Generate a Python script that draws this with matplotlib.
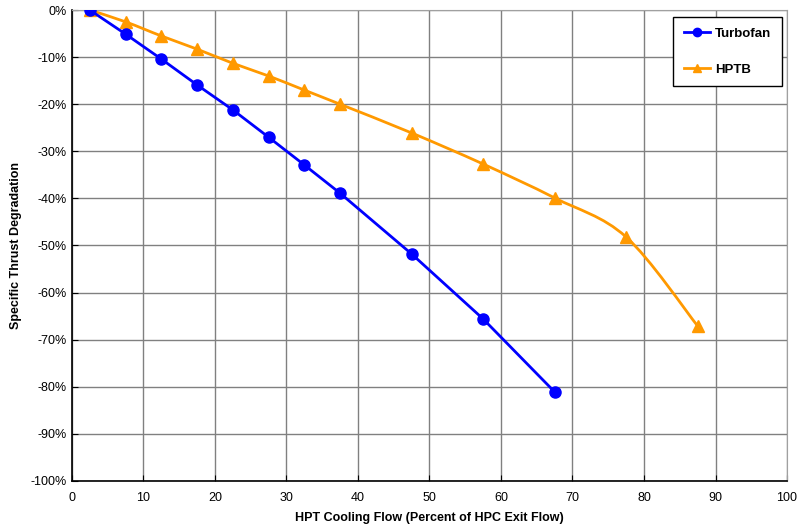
import matplotlib
matplotlib.use("Agg")
import matplotlib.pyplot as plt
from matplotlib.path import Path
import matplotlib.patches as patches
import numpy as np

plt.rcParams['font.family'] = ['Liberation Sans', 'DejaVu Sans']

# data
flow = [2.5, 7.5, 12.5, 17.5, 22.5, 27.5, 32.5, 37.5, 47.5, 57.5, 67.5]
turbofan = [0, -5.1, -10.4, -15.9, -21.2, -27.0, -32.9, -38.9, -51.8, -65.6, -81.1]
flow_hptb = [2.5, 7.5, 12.5, 17.5, 22.5, 27.5, 32.5, 37.5, 47.5, 57.5, 67.5, 77.5, 87.5]
hptb = [0, -2.5, -5.5, -8.3, -11.3, -14.0, -17.0, -20.0, -26.1, -32.7, -39.9, -48.2, -67.1]

blue = '#0000ff'
orange = '#ff9900'


def smooth_path(xs, ys):
    # excel-like smoothed line: cubic bezier through the points
    xs = np.asarray(xs, float)
    ys = np.asarray(ys, float)
    n = len(xs)
    verts = [(xs[0], ys[0])]
    codes = [Path.MOVETO]
    for i in range(n - 1):
        p0 = np.array([xs[max(i - 1, 0)], ys[max(i - 1, 0)]])
        p1 = np.array([xs[i], ys[i]])
        p2 = np.array([xs[i + 1], ys[i + 1]])
        p3 = np.array([xs[min(i + 2, n - 1)], ys[min(i + 2, n - 1)]])
        c1 = p1 + (p2 - p0) / 6.0
        c2 = p2 - (p3 - p1) / 6.0
        verts += [tuple(c1), tuple(c2), tuple(p2)]
        codes += [Path.CURVE4] * 3
    return Path(verts, codes)


fig = plt.figure(figsize=(7.99, 5.29), dpi=100)
ax = fig.add_axes([0.090, 0.091, 0.895, 0.890])

ax.plot(flow, turbofan, color=blue, lw=2, marker='o', ms=8, label='Turbofan', zorder=4)

ax.add_patch(patches.PathPatch(smooth_path(flow_hptb, hptb), fill=False,
                               edgecolor=orange, lw=2, zorder=3))
ax.plot(flow_hptb, hptb, ls='none', color=orange, marker='^', ms=8, zorder=3)
# legend handle
ax.plot([], [], color=orange, lw=2, marker='^', ms=8, label='HPTB')

ax.set_xlim(0, 100)
ax.set_ylim(-100, 0)
ax.set_xticks(range(0, 101, 10))
ax.set_yticks(range(-100, 1, 10))
ax.set_yticklabels([f'{v}%' for v in range(-100, 1, 10)])
ax.tick_params(labelsize=9, length=4, direction='in', colors='black')
ax.tick_params(axis='x', pad=8)
ax.grid(True, color='#808080', lw=1)
ax.set_axisbelow(True)
for s in ['top', 'right']:
    ax.spines[s].set_color('#a0a0a0')
for s in ['left', 'bottom']:
    ax.spines[s].set_linewidth(1.2)

ax.set_xlabel('HPT Cooling Flow (Percent of HPC Exit Flow)', fontsize=9, fontweight='bold', labelpad=6)
ax.set_ylabel('Specific Thrust Degradation', fontsize=9, fontweight='bold', labelpad=6)

leg = ax.legend(loc='upper right', bbox_to_anchor=(0.993, 0.985), borderaxespad=0,
                prop={'weight': 'bold', 'size': 9.5}, fancybox=False, framealpha=1,
                edgecolor='black', handlelength=2.0, handletextpad=0.4,
                labelspacing=1.8, borderpad=0.8, markerscale=0.75)
leg.get_frame().set_linewidth(1)

fig.savefig('out.png', dpi=100)
